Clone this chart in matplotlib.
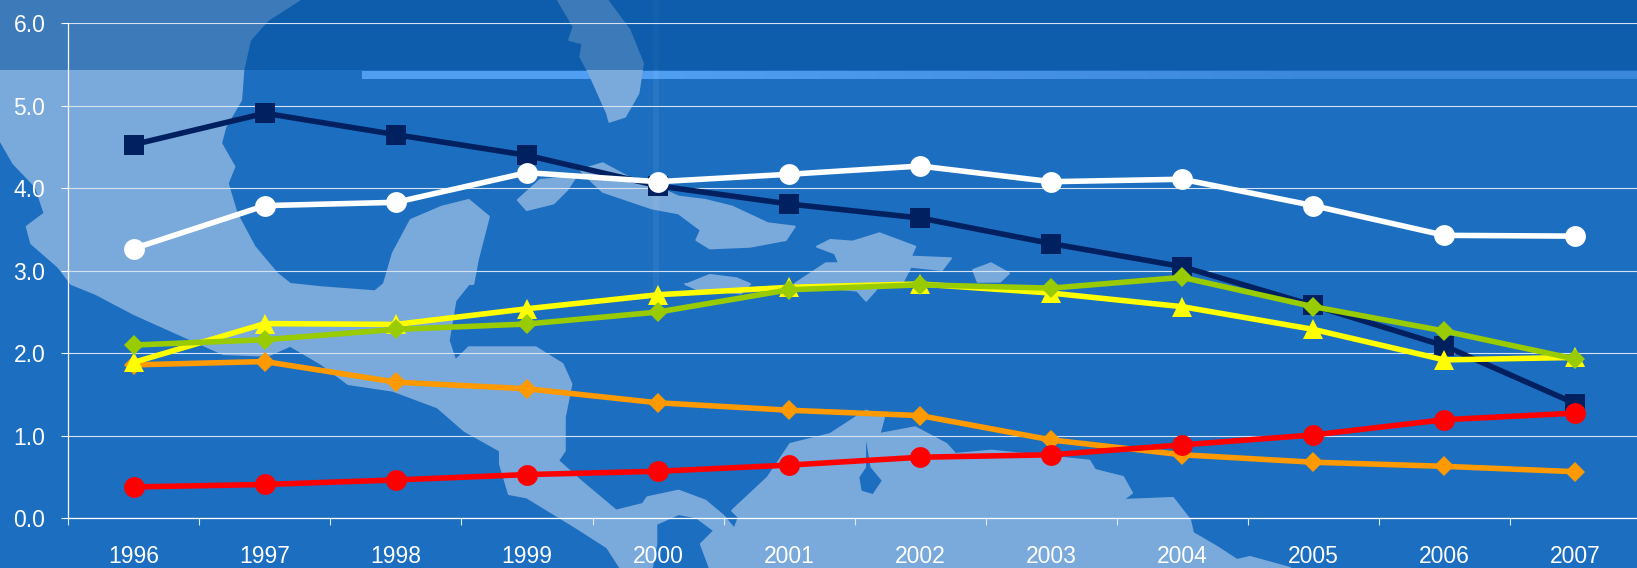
import matplotlib
matplotlib.use('Agg')
import matplotlib.pyplot as plt
from matplotlib.patches import Polygon, Rectangle
import numpy as np

plt.rcParams['font.family'] = ['Liberation Sans', 'DejaVu Sans']

years = ['1996', '1997', '1998', '1999', '2000', '2001', '2002', '2003', '2004', '2005', '2006', '2007']
y_ticks = [0, 1, 2, 3, 4, 5, 6]

navy = [4.53, 4.91, 4.65, 4.40, 4.03, 3.81, 3.64, 3.33, 3.05, 2.58, 2.09, 1.39]
orange = [1.86, 1.90, 1.65, 1.57, 1.40, 1.31, 1.245, 0.95, 0.77, 0.68, 0.63, 0.565]
yellow = [1.89, 2.36, 2.35, 2.54, 2.71, 2.80, 2.84, 2.73, 2.565, 2.29, 1.92, 1.95]
green = [2.10, 2.165, 2.29, 2.355, 2.50, 2.77, 2.83, 2.79, 2.92, 2.565, 2.27, 1.93]
white = [3.27, 3.79, 3.83, 4.19, 4.08, 4.17, 4.27, 4.08, 4.11, 3.79, 3.43, 3.42]
red = [0.38, 0.41, 0.465, 0.53, 0.57, 0.645, 0.74, 0.77, 0.89, 1.01, 1.195, 1.275]

WATER = '#1c6ec0'
LAND = '#7aa9db'


# the map outlines were traced on zoomed crops, so convert back to pixels
def z(x0, y0, pts):
    return [(x0 + a / 2.24, y0 + b / 3) for a, b in pts]


mainland = (
    [(0, 0)]
    + z(0, 0, [(670, 0), (600, 60), (560, 120), (545, 210), (540, 300), (505, 380), (495, 430), (525, 500),
               (510, 550), (530, 640), (570, 740), (620, 820), (650, 852)])
    + z(0, 284, [(720, 10), (840, 22), (860, 0)])
    + z(0, 0, [(880, 760), (920, 660), (990, 620), (1050, 600), (1095, 650), (1070, 780), (1060, 852)])
    + z(0, 284, [(1050, 0), (1020, 50), (1005, 170), (1020, 230), (1050, 190), (1200, 190), (1260, 240),
                 (1280, 300), (1265, 400), (1265, 500), (1250, 530), (1300, 590), (1380, 680), (1440, 660)])
    + z(500, 284, [(330, 640), (400, 620), (460, 650), (500, 695), (525, 735), (535, 700), (520, 680), (600, 580),
                   (650, 480), (740, 450), (820, 380), (860, 400), (850, 450), (930, 430), (1000, 480), (1020, 510),
                   (1100, 500), (1320, 530)])
    + [(1095, 470), (1123, 477), (1132, 493), (1122, 500), (1173, 498), (1190, 520), (1193, 533), (1217, 547),
       (1237, 560), (1250, 557), (1290, 568)]
    + z(500, 284, [(470, 852), (450, 780), (480, 740), (440, 700), (400, 690), (350, 720), (350, 780), (340, 852),
                   (270, 852), (240, 790), (170, 730), (60, 640), (20, 630), (0, 540)])
    + z(0, 284, [(1120, 500), (1040, 440), (980, 370), (880, 320), (780, 300), (720, 240), (650, 185), (600, 215),
                 (500, 210), (400, 150), (300, 90), (215, 30), (160, 0)])
    + z(0, 0, [(130, 800), (70, 730), (60, 680), (100, 640), (80, 560), (30, 490), (0, 420)])
)
islands = [
    z(500, 0, [(130, 0), (240, 0), (290, 90), (320, 190), (310, 280), (280, 350), (245, 365), (240, 340), (200, 220),
               (180, 170), (185, 130), (155, 120), (165, 80)]),
    z(500, 0, [(180, 510), (230, 490), (300, 540), (350, 560), (400, 590), (460, 600), (520, 620), (600, 670),
               (660, 680), (640, 720), (560, 740), (470, 745), (440, 720), (450, 690), (400, 640), (340, 625),
               (230, 575), (210, 550)]),
    z(500, 0, [(40, 600), (90, 540), (170, 530), (150, 570), (120, 610), (60, 630)]),
    z(500, 0, [(710, 740), (740, 720), (790, 725), (850, 700), (930, 740), (920, 770), (1010, 775), (990, 810),
               (920, 800), (900, 852), (850, 852)]) + z(500, 284, [(840, 20), (820, 50), (800, 20)])
    + z(500, 0, [(660, 852), (730, 790), (760, 790), (750, 760)]),
    z(500, 0, [(1060, 810), (1100, 790), (1140, 820), (1120, 845), (1070, 845)]),
    z(500, 0, [(420, 852), (470, 825), (530, 835), (560, 852)]) + z(500, 284, [(540, 28), (440, 15), (415, 0)]),
]
lake = z(500, 284, [(820, 470), (830, 550), (855, 590), (835, 630), (810, 620), (805, 580), (820, 550)])

fig = plt.figure(figsize=(16.37, 5.68), dpi=100, facecolor=WATER)

bg = fig.add_axes([0, 0, 1, 1], zorder=0)
bg.set_facecolor(WATER)
for shape in [mainland] + islands:
    bg.add_patch(Polygon(shape, closed=True, facecolor=LAND, edgecolor=LAND, lw=1.5, joinstyle='round'))
bg.add_patch(Polygon(lake, closed=True, facecolor=WATER, edgecolor='none'))
# faint vertical band, dark strip on top, light bar under it
bg.add_patch(Rectangle((653, 0), 6, 320, facecolor='white', alpha=0.05, edgecolor='none'))
bg.add_patch(Rectangle((0, 0), 1637, 70, facecolor=(0, 0.3, 0.6), alpha=0.5, edgecolor='none'))
bg.imshow(np.array([[[0.31, 0.62, 0.95], [0.23, 0.53, 0.86]]]),
          extent=(362, 1637, 79.5, 72), aspect='auto', interpolation='bilinear')
bg.set_xlim(0, 1637)
bg.set_ylim(568, 0)
bg.axis('off')

ax = fig.add_axes([68.3 / 1637, (568 - 518.3) / 568, 1 - 68.3 / 1637, (518.3 - 23.3) / 568], zorder=1)
ax.patch.set_alpha(0)

xs = list(range(len(years)))
ax.plot(xs, navy, color='#002060', lw=4, marker='s', ms=15, mew=0, zorder=3)
ax.plot(xs, orange, color='#ff9900', lw=4, marker='D', ms=10.6, mew=0, zorder=4)
ax.plot(xs, yellow, color='#ffff00', lw=4, marker='^', ms=15, mew=0, zorder=5)
ax.plot(xs, green, color='#99cc00', lw=4, marker='D', ms=10.6, mew=0, zorder=6)
ax.plot(xs, white, color='white', lw=4, marker='o', ms=15, mew=0, zorder=7)
ax.plot(xs, red, color='#ff0000', lw=4, marker='o', ms=15, mew=0, zorder=8)

ax.set_xlim(-0.5, 11.47)
ax.set_ylim(0, 6)
ax.set_yticks(y_ticks)
ax.set_yticklabels(['%.1f' % v for v in y_ticks])
ax.set_xticks(xs)
ax.set_xticklabels(years)
ax.set_xticks([i - 0.5 for i in xs], minor=True)
ax.grid(axis='y', color='#d5e2f2', lw=0.8, zorder=1)
ax.tick_params(axis='y', colors='white', labelsize=16.5, length=5, width=0.8, pad=11.5)
ax.tick_params(axis='x', which='major', colors='white', labelsize=16.5, length=0, pad=19)
ax.tick_params(axis='x', which='minor', colors='#dfe9f5', length=5, width=0.8)
for side in ['top', 'right']:
    ax.spines[side].set_visible(False)
for side in ['left', 'bottom']:
    ax.spines[side].set_color('white')
    ax.spines[side].set_linewidth(0.9)

fig.savefig('out.png', dpi=100, facecolor=fig.get_facecolor())
